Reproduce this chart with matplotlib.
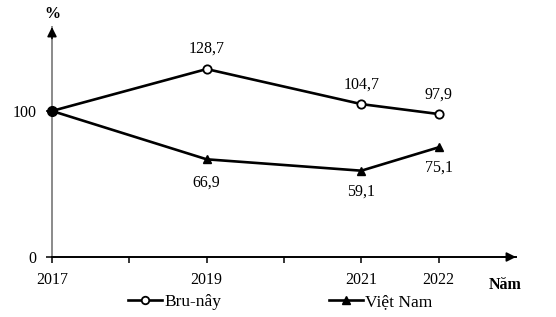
import matplotlib
matplotlib.use("Agg")
import matplotlib.pyplot as plt

plt.rcParams['font.family'] = ['Liberation Serif', 'DejaVu Serif']
plt.rcParams['font.size'] = 11.5

years = [2017, 2019, 2021, 2022]
bru_nay = [100, 128.7, 104.7, 97.9]
viet_nam = [100, 66.9, 59.1, 75.1]
bru_labels = ['', '128,7', '104,7', '97,9']
vn_labels = ['', '66,9', '59,1', '75,1']
x_ticks = [2017, 2018, 2019, 2020, 2021, 2022]
x_tick_labels = ['2017', '', '2019', '', '2021', '2022']
y_ticks = [0, 100]

fig = plt.figure(figsize=(5.56, 3.17), dpi=100)
ax = fig.add_axes([52 / 556, 1 - 257 / 317, (516 - 52) / 556, (257 - 27) / 317])

ax.plot(years, bru_nay, color='black', lw=1.9, marker='o', markersize=6,
        markerfacecolor='white', markeredgecolor='black', markeredgewidth=1.3,
        markevery=[1, 2, 3], label='Bru-nây', zorder=3, clip_on=False)
ax.plot(years, viet_nam, color='black', lw=1.9, marker='^', markersize=6,
        markevery=[1, 2, 3], label='Việt Nam', zorder=3, clip_on=False)
# shared start point (both = 100) drawn as a black dot
ax.plot(years[0], bru_nay[0], marker='o', markersize=7, color='black',
        zorder=4, clip_on=False)

# value labels
bru_off = [0, 15, 13.7, 13.7]
for x, y, t, o in zip(years, bru_nay, bru_labels, bru_off):
    if t:
        ax.annotate(t, (x, y), xytext=(0, o), textcoords='offset points',
                    ha='center', va='center')
vn_off = [0, -16.5, -15, -14.4]
for x, y, t, o in zip(years, viet_nam, vn_labels, vn_off):
    if t:
        ax.annotate(t, (x, y), xytext=(0, o), textcoords='offset points',
                    ha='center', va='center')

ax.set_xlim(2017, 2023)
ax.set_ylim(0, 157.5)
ax.set_xticks(x_ticks)
ax.set_xticklabels(x_tick_labels)
ax.set_yticks(y_ticks)
ax.tick_params(axis='both', direction='out', length=4, width=1.1)
ax.tick_params(axis='x', pad=7)
ax.tick_params(axis='y', pad=7, colors='black')

for s in ['top', 'right']:
    ax.spines[s].set_visible(False)
ax.spines['left'].set_color('#8a8a8a')
ax.spines['left'].set_linewidth(1.4)
ax.spines['bottom'].set_linewidth(1.4)

# arrow heads
ax.annotate('', xy=(1, 0), xytext=(0.97, 0), xycoords='axes fraction',
            arrowprops=dict(arrowstyle='-|>', color='black', lw=1.2,
                            mutation_scale=14, shrinkA=0, shrinkB=0))
ax.annotate('', xy=(0, 1), xytext=(0, 0.95), xycoords='axes fraction',
            arrowprops=dict(arrowstyle='-|>', color='black', lw=1.2,
                            mutation_scale=14, shrinkA=0, shrinkB=0))

fig.text(52 / 556, 1 - 14 / 317, '%', ha='center', va='center', fontweight='bold')
fig.text(505 / 556, 1 - 285 / 317, 'Năm', ha='center', va='center', fontweight='bold')

fig.legend(loc='center', bbox_to_anchor=(280 / 556, 1 - 302 / 317), ncol=2,
           frameon=False, handlelength=2.0, handletextpad=0.1,
           columnspacing=6.2, borderpad=0, borderaxespad=0, fontsize=12.5,
           markerscale=0.9)

fig.savefig('out.png', dpi=100)
